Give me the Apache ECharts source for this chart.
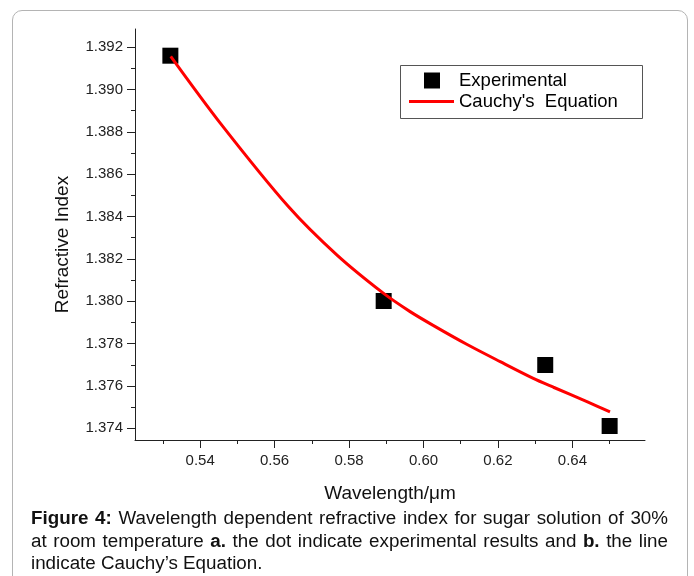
<!DOCTYPE html>
<html>
<head>
<meta charset="utf-8">
<script src="https://cdn.jsdelivr.net/npm/echarts@6/dist/echarts.min.js"></script>
<style>
  html, body { margin: 0; padding: 0; background: #fff; }
  #frame {
    position: absolute; left: 12px; top: 10px; width: 674px; height: 640px;
    border: 1px solid #b4b4b4; border-radius: 10px;
  }
  #chart { position: absolute; left: 0; top: 0; width: 694px; height: 576px; }
  #caption {
    position: absolute; left: 31px; top: 507px; width: 637px;
    font-family: "Liberation Sans", Arial, sans-serif; font-size: 18.8px;
    line-height: 22.5px; text-align: justify; color: #111;
  }
</style>
</head>
<body>
<div id="frame"></div>
<div id="chart"></div>
<div id="caption"><b>Figure 4:</b> Wavelength dependent refractive index for sugar solution of 30% at room temperature <b>a.</b> the dot indicate experimental results and <b>b.</b> the line indicate Cauchy’s Equation.</div>
<script>
// measured points (wavelength in um, refractive index)
const expX = [0.532, 0.5893, 0.6327, 0.650];
const expY = [1.39159, 1.38001, 1.37699, 1.37411];

// Cauchy fit curve
const fitX = [0.5321, 0.5454, 0.5637, 0.5767, 0.5892, 0.5964, 0.6027, 0.6116, 0.6206, 0.6295, 0.6349, 0.6439, 0.6501];
const fitY = [1.39156, 1.38841, 1.38447, 1.38219, 1.38038, 1.37951, 1.37885, 1.37797, 1.37715, 1.37636, 1.37594, 1.37526, 1.37478];

// tick labels
const xMajor = [0.54, 0.56, 0.58, 0.60, 0.62, 0.64];
const xMinor = [0.53, 0.55, 0.57, 0.59, 0.61, 0.63, 0.65];
const yMajor = [1.374, 1.376, 1.378, 1.380, 1.382, 1.384, 1.386, 1.388, 1.390, 1.392];
const yMinor = [1.375, 1.377, 1.379, 1.381, 1.383, 1.385, 1.387, 1.389, 1.391];

const font = '"Liberation Sans", Arial, sans-serif';
const xMin = 0.5225, xMax = 0.6595;
const yMin = 1.37345, yMax = 1.39285;

const chart = echarts.init(document.getElementById('chart'));

const axisColor = '#222';

const option = {
  animation: false,
  grid: { left: 135, top: 29, right: 49, bottom: 136 },
  xAxis: [
    {
      type: 'value', min: xMin, max: xMax, position: 'bottom',
      name: 'Wavelength/μm', nameLocation: 'middle', nameGap: 44,
      nameTextStyle: { fontFamily: font, fontSize: 19, color: '#111' },
      axisLine: { show: true, lineStyle: { color: axisColor, width: 1 } },
      axisTick: { show: true, customValues: xMajor, length: 8, lineStyle: { color: axisColor } },
      axisLabel: {
        customValues: xMajor, margin: 13, fontFamily: font, fontSize: 15, color: '#222',
        formatter: v => v.toFixed(2)
      },
      splitLine: { show: false }
    },
    {
      type: 'value', min: xMin, max: xMax, position: 'bottom',
      axisLine: { show: false },
      axisTick: { show: true, customValues: xMinor, length: 4, lineStyle: { color: axisColor } },
      axisLabel: { show: false },
      splitLine: { show: false }
    }
  ],
  yAxis: [
    {
      type: 'value', min: yMin, max: yMax, position: 'left',
      name: 'Refractive Index', nameLocation: 'middle', nameGap: 63,
      nameTextStyle: { fontFamily: font, fontSize: 19, color: '#111', padding: [0, 20, 0, 0] },
      axisLine: { show: true, lineStyle: { color: axisColor, width: 1 } },
      axisTick: { show: true, customValues: yMajor, length: 8, lineStyle: { color: axisColor } },
      axisLabel: {
        customValues: yMajor, margin: 12, fontFamily: font, fontSize: 15, color: '#222',
        formatter: v => v.toFixed(3)
      },
      splitLine: { show: false }
    },
    {
      type: 'value', min: yMin, max: yMax, position: 'left',
      axisLine: { show: false },
      axisTick: { show: true, customValues: yMinor, length: 4, lineStyle: { color: axisColor } },
      axisLabel: { show: false },
      splitLine: { show: false }
    }
  ],
  legend: [
    {
      data: ['Experimental'], left: 424, top: 71, orient: 'vertical', padding: 0,
      itemWidth: 16, itemHeight: 16, selectedMode: false,
      textStyle: { fontFamily: font, fontSize: 18.5, color: '#000', padding: [0, 0, 0, 14] }
    },
    {
      data: [{ name: "Cauchy's  Equation", icon: 'rect', itemStyle: { color: '#ff0000' } }],
      left: 409, top: 92, orient: 'vertical', padding: 0,
      itemWidth: 45, itemHeight: 3, selectedMode: false,
      textStyle: { fontFamily: font, fontSize: 18.5, color: '#000' }
    }
  ],
  graphic: [
    {
      type: 'rect', left: 398, top: 63, z: 0,
      shape: { width: 242, height: 53 },
      style: { fill: 'none', stroke: '#555', lineWidth: 1 }
    }
  ],
  series: [
    {
      name: 'Experimental', type: 'scatter', symbol: 'rect', symbolSize: 16,
      itemStyle: { color: '#000', opacity: 1 }, z: 2,
      data: expX.map((x, i) => [x, expY[i]])
    },
    {
      name: "Cauchy's  Equation", type: 'line', symbol: 'none', showSymbol: false,
      smooth: 0.3, z: 3,
      lineStyle: { color: '#ff0000', width: 3 },
      itemStyle: { color: '#ff0000' },
      data: fitX.map((x, i) => [x, fitY[i]])
    }
  ]
};

chart.setOption(option);
</script>
</body>
</html>
